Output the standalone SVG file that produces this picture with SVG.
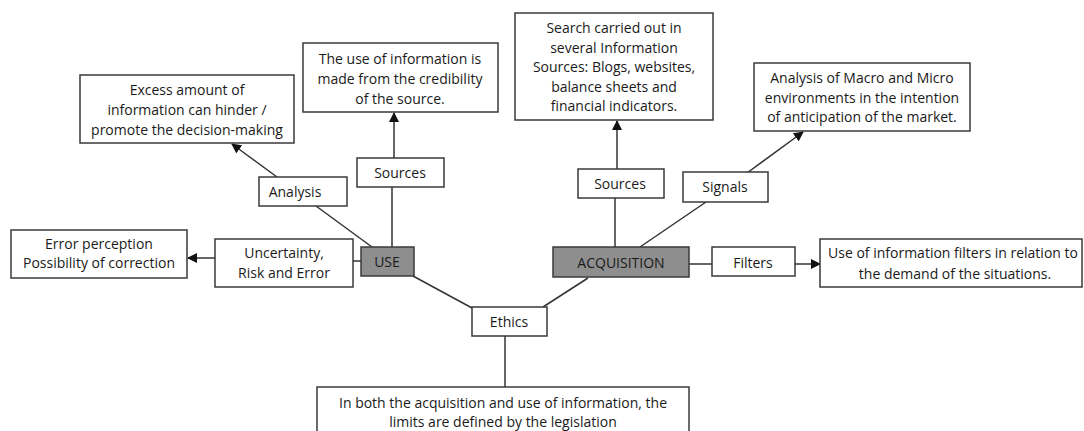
<svg xmlns="http://www.w3.org/2000/svg" width="1084" height="431" viewBox="0 0 1084 431">
<style>
.box{fill:#fff;stroke:#3a3a3a;stroke-width:1.5}
.core{fill:#8e8e8e;stroke:#3a3a3a;stroke-width:1.5}
.t{font-family:"Open Sans","Liberation Sans",sans-serif;font-size:14px;fill:#1a1a1a;text-anchor:middle}
.c{stroke:#333;stroke-width:1.5;fill:none}
.a{marker-end:url(#ah)}
</style>
<defs>
<marker id="ah" viewBox="0 0 10 10" refX="9" refY="5" markerWidth="10" markerHeight="10" markerUnits="userSpaceOnUse" orient="auto">
<path d="M0,0 L10,5 L0,10 z" fill="#111"/>
</marker>
</defs>
<rect width="1084" height="431" fill="#fff"/>
<g id="connectors">
<line class="c a" x1="277" y1="177" x2="232" y2="144"/>
<line class="c" x1="316" y1="206" x2="372" y2="247"/>
<line class="c a" x1="394" y1="158" x2="394" y2="113"/>
<line class="c" x1="392" y1="187" x2="392" y2="247"/>
<line class="c a" x1="215" y1="258" x2="188" y2="258"/>
<line class="c" x1="353" y1="261" x2="361" y2="261"/>
<line class="c" x1="413" y1="276" x2="472" y2="308"/>
<line class="c a" x1="617" y1="169" x2="617" y2="121"/>
<line class="c" x1="615" y1="198" x2="615" y2="247"/>
<line class="c" x1="706" y1="202" x2="640" y2="247"/>
<line class="c a" x1="747" y1="173" x2="803" y2="132"/>
<line class="c" x1="689" y1="264" x2="712" y2="264"/>
<line class="c a" x1="795" y1="264" x2="820" y2="264"/>
<line class="c" x1="588" y1="278" x2="543" y2="307"/>
<line class="c" x1="505" y1="336" x2="505" y2="387"/>
</g>
<g id="excess">
<rect class="box" x="80" y="75" width="214" height="68"/>
<text class="t" x="187" y="95">Excess amount of</text>
<text class="t" x="187" y="115">information can hinder /</text>
<text class="t" x="187" y="135">promote the decision-making</text>
</g>
<g id="credibility">
<rect class="box" x="303" y="43" width="195" height="69"/>
<text class="t" x="400" y="64">The use of information is</text>
<text class="t" x="400" y="84">made from the credibility</text>
<text class="t" x="400" y="104">of the source.</text>
</g>
<g id="search">
<rect class="box" x="515" y="13" width="198" height="107"/>
<text class="t" x="614" y="33">Search carried out in</text>
<text class="t" x="614" y="52.5">several Information</text>
<text class="t" x="614" y="72">Sources: Blogs, websites,</text>
<text class="t" x="614" y="91.5">balance sheets and</text>
<text class="t" x="614" y="111">financial indicators.</text>
</g>
<g id="macro">
<rect class="box" x="754" y="63" width="216" height="68"/>
<text class="t" x="862" y="83">Analysis of Macro and Micro</text>
<text class="t" x="862" y="103">environments in the intention</text>
<text class="t" x="862" y="122">of anticipation of the market.</text>
</g>
<g id="analysis">
<rect class="box" x="259" y="177" width="88" height="29"/>
<text class="t" x="295" y="197">Analysis</text>
</g>
<g id="sources-use">
<rect class="box" x="357" y="158" width="87" height="29"/>
<text class="t" x="400" y="178">Sources</text>
</g>
<g id="sources-acq">
<rect class="box" x="578" y="169" width="86" height="29"/>
<text class="t" x="620" y="189">Sources</text>
</g>
<g id="signals">
<rect class="box" x="683" y="172" width="85" height="30"/>
<text class="t" x="725" y="192">Signals</text>
</g>
<g id="error">
<rect class="box" x="11" y="230" width="176" height="48"/>
<text class="t" x="99" y="249">Error perception</text>
<text class="t" x="99" y="268">Possibility of correction</text>
</g>
<g id="uncertainty">
<rect class="box" x="215" y="239" width="138" height="48"/>
<text class="t" x="284" y="258">Uncertainty,</text>
<text class="t" x="284" y="278">Risk and Error</text>
</g>
<g id="use">
<rect class="core" x="361" y="247" width="53" height="29"/>
<text class="t" x="387" y="267">USE</text>
</g>
<g id="acquisition">
<rect class="core" x="553" y="247" width="136" height="30"/>
<text class="t" x="621" y="268">ACQUISITION</text>
</g>
<g id="filters">
<rect class="box" x="712" y="247" width="83" height="29"/>
<text class="t" x="753" y="268">Filters</text>
</g>
<g id="filters-desc">
<rect class="box" x="820" y="239" width="262" height="48"/>
<text class="t" x="953" y="258">Use of information filters in relation to</text>
<text class="t" x="955" y="279">the demand of the situations.</text>
</g>
<g id="ethics">
<rect class="box" x="472" y="307" width="75" height="29"/>
<text class="t" x="509" y="327">Ethics</text>
</g>
<g id="legislation">
<rect class="box" x="317" y="387" width="372" height="60"/>
<text class="t" x="503" y="408">In both the acquisition and use of information, the</text>
<text class="t" x="503" y="427">limits are defined by the legislation</text>
</g>
</svg>
